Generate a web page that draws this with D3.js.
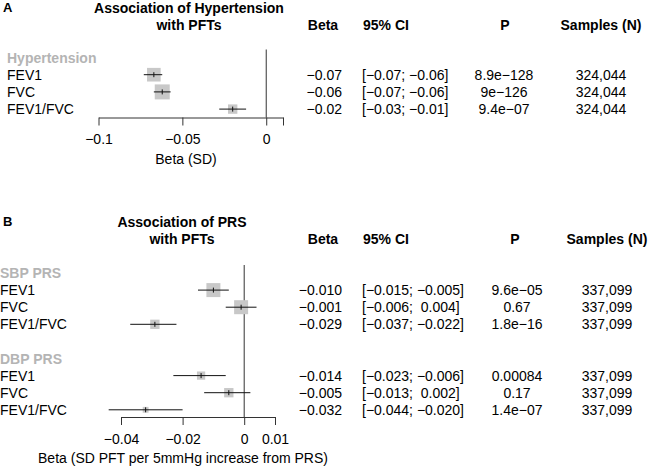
<!DOCTYPE html>
<html>
<head>
<meta charset="utf-8">
<script src="https://cdn.jsdelivr.net/npm/d3@7"></script>
<style>
body { margin: 0; background: #fff; }
svg text { font-family: "Liberation Sans", Arial, sans-serif; font-size: 14px; fill: #000; white-space: pre; }
</style>
</head>
<body>
<svg id="chart" width="649" height="468"></svg>
<script>
var outcomes = ['FEV1', 'FVC', 'FEV1/FVC'];

// panel A: hypertension
var htnBeta = [-0.067, -0.062, -0.020];
var htnLower = [-0.073, -0.067, -0.028];
var htnUpper = [-0.062, -0.057, -0.012];
var htnP = ['8.9e\u2212128', '9e\u2212126', '9.4e\u221207'];
var htnN = [324044, 324044, 324044];
var ticksA = [-0.1, -0.05, 0, 0.01];

// panel B: PRS
var sbpBeta = [-0.010, -0.001, -0.029];
var sbpLower = [-0.015, -0.006, -0.037];
var sbpUpper = [-0.005, 0.004, -0.022];
var sbpP = ['9.6e\u221205', '0.67', '1.8e\u221216'];
var dbpBeta = [-0.014, -0.005, -0.032];
var dbpLower = [-0.023, -0.013, -0.044];
var dbpUpper = [-0.006, 0.002, -0.020];
var dbpP = ['0.00084', '0.17', '1.4e\u221207'];
var prsN = [337099, 337099, 337099];
var ticksB = [-0.04, -0.02, 0, 0.01];

var svg = d3.select('#chart');
svg.append('rect').attr('width', 649).attr('height', 468).attr('fill', '#fff');

var fmtN = d3.format(',');
var minus = function (s) { return s.replace(/-/g, '\u2212'); };
var fmtNum = function (v, digits) {
	var s = v.toFixed(digits);
	if (v >= 0) { s = ' ' + s; }
	return minus(s);
};

var buildRows = function (groups) {
	// groups: [{label, beta, lower, upper, p, n}]
	var rows = [];
	var idx = 0;
	groups.forEach(function (g, gi) {
		if (gi > 0) { idx++; }
		rows.push({type: 'group', label: g.label, idx: idx++});
		for (var i = 0; i < outcomes.length; i++) {
			rows.push({type: 'item', label: outcomes[i], beta: g.beta[i], lower: g.lower[i],
				upper: g.upper[i], p: g.p[i], n: g.n[i], idx: idx++});
		}
	});
	return rows;
};

var drawPanel = function (o) {
	var g = svg.append('g');
	var rows = buildRows(o.groups);
	var items = rows.filter(function (r) { return r.type === 'item'; });
	var nRows = d3.max(rows, function (r) { return r.idx; });
	var x = d3.scaleLinear().domain(o.domain).range(o.xRange);
	var y = d3.scaleLinear().domain([0, nRows]).range([o.top, o.top + nRows * o.rowStep]);

	// box size from inverse CI width
	var inv = items.map(function (r) { return 1 / (r.upper - r.lower); });
	var size = d3.scaleLinear().domain([0, d3.max(inv)]).range([0, o.maxBox]);

	g.append('text').attr('x', 3).attr('y', o.titleY - 1).style('font-weight', 'bold')
		.style('font-size', '13px').text(o.letter);
	o.title.forEach(function (t, i) {
		g.append('text').attr('x', o.titleX).attr('y', o.titleY + i * 16.5)
			.attr('text-anchor', 'middle').style('font-weight', 'bold').text(t);
	});

	// column headers
	var hy = o.titleY + 16.5;
	g.append('text').attr('x', 323).attr('y', hy).attr('text-anchor', 'middle').style('font-weight', 'bold').text('Beta');
	g.append('text').attr('x', 363).attr('y', hy).style('font-weight', 'bold').text('95% CI');
	g.append('text').attr('x', o.pHeadX).attr('y', hy).attr('text-anchor', 'middle').style('font-weight', 'bold').text('P');
	g.append('text').attr('x', o.nX).attr('y', hy).attr('text-anchor', 'middle').style('font-weight', 'bold').text('Samples (N)');

	// labels
	g.selectAll('text.lab').data(rows).enter().append('text')
		.attr('class', 'lab')
		.attr('x', o.labelX)
		.attr('y', function (r) { return y(r.idx) + 5; })
		.style('font-weight', function (r) { return r.type === 'group' ? 'bold' : 'normal'; })
		.style('fill', function (r) { return r.type === 'group' ? '#b4b4b4' : '#000'; })
		.text(function (r) { return r.label; });

	// zero line
	g.append('line')
		.attr('x1', x(0)).attr('x2', x(0))
		.attr('y1', y(0) - 8).attr('y2', o.axisY)
		.attr('stroke', '#333').attr('stroke-width', 1);

	// boxes
	g.selectAll('rect.box').data(items).enter().append('rect')
		.attr('class', 'box')
		.attr('x', function (r) { return x(r.beta) - size(1 / (r.upper - r.lower)) / 2; })
		.attr('y', function (r) { return y(r.idx) - size(1 / (r.upper - r.lower)) / 2; })
		.attr('width', function (r) { return size(1 / (r.upper - r.lower)); })
		.attr('height', function (r) { return size(1 / (r.upper - r.lower)); })
		.attr('fill', '#c8c8c8');

	// CI lines
	g.selectAll('line.ci').data(items).enter().append('line')
		.attr('class', 'ci')
		.attr('x1', function (r) { return x(r.lower); })
		.attr('x2', function (r) { return x(r.upper); })
		.attr('y1', function (r) { return y(r.idx); })
		.attr('y2', function (r) { return y(r.idx); })
		.attr('stroke', '#111').attr('stroke-width', 1);

	g.selectAll('line.est').data(items).enter().append('line')
		.attr('class', 'est')
		.attr('x1', function (r) { return x(r.beta); })
		.attr('x2', function (r) { return x(r.beta); })
		.attr('y1', function (r) { return y(r.idx) - 2.5; })
		.attr('y2', function (r) { return y(r.idx) + 2.5; })
		.attr('stroke', '#111').attr('stroke-width', 1);

	// axis
	var axis = d3.axisBottom(x).tickValues(o.ticks).tickSize(8).tickSizeOuter(0)
		.tickFormat(function (d) { return o.hideTick.indexOf(d) >= 0 ? '' : d3.format('')(d); });
	var ax = g.append('g').attr('transform', 'translate(0,' + o.axisY + ')').call(axis);
	ax.select('.domain').attr('stroke', '#333');
	ax.selectAll('.tick line').attr('stroke', '#333');
	ax.selectAll('.tick text').attr('y', 17).attr('dy', '0.71em')
		.style('font-family', '"Liberation Sans", Arial, sans-serif').style('font-size', '14px').attr('fill', '#000');
	g.append('text').attr('x', o.axisTitleX).attr('y', o.axisY + 46).attr('text-anchor', 'middle').text(o.axisTitle);

	// table columns
	g.selectAll('text.beta').data(items).enter().append('text')
		.attr('x', 342).attr('y', function (r) { return y(r.idx) + 5; })
		.attr('text-anchor', 'end')
		.text(function (r) { return fmtNum(r.beta, o.digits); });
	g.selectAll('text.ci').data(items).enter().append('text')
		.attr('x', 362).attr('y', function (r) { return y(r.idx) + 5; })
		.text(function (r) { return '[' + fmtNum(r.lower, o.digits) + '; ' + fmtNum(r.upper, o.digits) + ']'; });
	g.selectAll('text.p').data(items).enter().append('text')
		.attr('x', o.pX).attr('y', function (r) { return y(r.idx) + 5; })
		.attr('text-anchor', 'middle')
		.text(function (r) { return r.p; });
	g.selectAll('text.n').data(items).enter().append('text')
		.attr('x', o.nX).attr('y', function (r) { return y(r.idx) + 5; })
		.attr('text-anchor', 'middle')
		.text(function (r) { return fmtN(r.n); });
};

drawPanel({
	letter: 'A',
	title: ['Association of Hypertension', 'with PFTs'],
	titleX: 189, titleY: 13,
	groups: [{label: 'Hypertension', beta: htnBeta, lower: htnLower, upper: htnUpper, p: htnP, n: htnN}],
	domain: [-0.1, 0.01], xRange: [98.5, 283], ticks: ticksA, hideTick: [0.01],
	top: 57.5, rowStep: 17.2, axisY: 117.5, maxBox: 15,
	labelX: 7, axisTitle: 'Beta (SD)', axisTitleX: 186,
	digits: 2, pX: 504, pHeadX: 505, nX: 601
});

drawPanel({
	letter: 'B',
	title: ['Association of PRS', 'with PFTs'],
	titleX: 182, titleY: 227,
	groups: [
		{label: 'SBP PRS', beta: sbpBeta, lower: sbpLower, upper: sbpUpper, p: sbpP, n: prsN},
		{label: 'DBP PRS', beta: dbpBeta, lower: dbpLower, upper: dbpUpper, p: dbpP, n: prsN}
	],
	domain: [-0.04, 0.01], xRange: [121, 275], ticks: ticksB, hideTick: [],
	top: 273, rowStep: 17.1, axisY: 417, maxBox: 14,
	labelX: 0, axisTitle: 'Beta (SD PFT per 5mmHg increase from PRS)', axisTitleX: 183,
	digits: 3, pX: 517, pHeadX: 515, nX: 607
});
</script>
</body>
</html>
